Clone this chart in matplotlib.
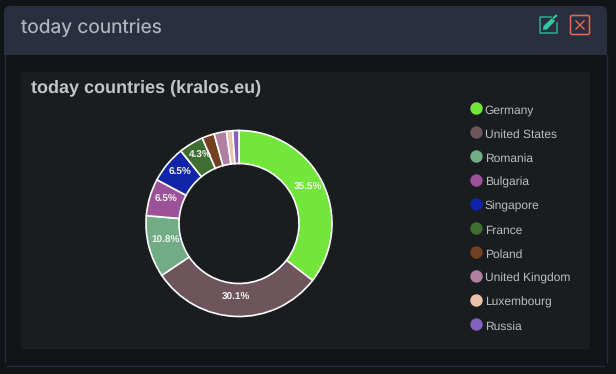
import matplotlib
matplotlib.use("Agg")
import matplotlib.pyplot as plt
from matplotlib.patches import FancyBboxPatch, Rectangle, Polygon

countries = ["Germany", "United States", "Romania", "Bulgaria", "Singapore",
             "France", "Poland", "United Kingdom", "Luxembourg", "Russia"]
visits = [33, 28, 10, 6, 6, 4, 2, 2, 1, 1]
colors = ["#72e63a", "#6e555b", "#72ac84", "#9b5299", "#0f24a6",
          "#3f6f30", "#74401f", "#b17f9f", "#ebc3aa", "#8360bb"]
small_labels = 4.0  # slices below this percent get no label

W, H = 616, 374
plt.rcParams["font.family"] = ["Liberation Sans", "DejaVu Sans"]
plt.rcParams["text.hinting"] = "no_hinting"
plt.rcParams["text.hinting_factor"] = 1

fig = plt.figure(figsize=(W / 100, H / 100), dpi=100, facecolor="#101416")

# page furniture, in pixel coordinates
bg = fig.add_axes([0, 0, 1, 1])
bg.set_xlim(0, W)
bg.set_ylim(H, 0)
bg.axis("off")

bg.add_patch(FancyBboxPatch((4, 6), 603, 60, boxstyle="round,pad=0,rounding_size=6",
                            fc="#2a2f3f", ec="none"))
bg.add_patch(Rectangle((4, 55), 603, 20, fc="#101416", ec="none"))
bg.plot([4.5, 4.5], [55, 362], color="#262c3a", lw=1)
bg.plot([606.5, 606.5], [55, 362], color="#262c3a", lw=1)
bg.plot([7, 604], [365.5, 365.5], color="#262c3a", lw=1)
bg.add_patch(Rectangle((21, 72), 569, 277, fc="#191d20", ec="none"))

bg.text(21, 28, "today countries", color="#b4b6bd", fontsize=13.8,
        family=["Inter", "DejaVu Sans"], va="center", ha="left")
bg.text(31, 88, "today countries (kralos.eu)", color="#c4c5c7", fontsize=13.0,
        fontweight="bold", va="center", ha="left")

# edit icon
teal = "#30a98c"
bg.plot([551, 540, 540, 556.5, 556.5], [16.5, 16.5, 33, 33, 23], color=teal, lw=1.1,
        solid_joinstyle="round")
bg.add_patch(Polygon([(543, 30), (543.5, 26), (552, 18), (555, 21), (547, 29.5)],
                     fc="#33c79f", ec="none"))
bg.plot([554, 556], [17.5, 15.8], color="#33c79f", lw=1.6)

# close icon
red = "#e8674f"
bg.add_patch(FancyBboxPatch((570.5, 15.5), 19, 19, boxstyle="round,pad=0,rounding_size=1.5",
                            fc="none", ec=red, lw=1.1))
bg.plot([576, 584], [21, 29], color=red, lw=1.0)
bg.plot([576, 584], [29, 21], color=red, lw=1.0)

# donut
cx, cy, r = 239, 223.5, 93
ax = fig.add_axes([(cx - r) / W, (H - cy - r) / H, 2 * r / W, 2 * r / H])
ax.set_facecolor("none")
wedges, _, pct_texts = ax.pie(
    visits, colors=colors, startangle=90, counterclock=False, radius=1,
    wedgeprops=dict(width=33 / 93, edgecolor="white", linewidth=1.2, clip_on=False),
    autopct=lambda p: f"{p:.1f}%" if p >= small_labels else "",
    pctdistance=0.82,
    textprops=dict(color="white", fontsize=7.2, fontweight="bold"),
)
ax.set_xlim(-1, 1)
ax.set_ylim(-1, 1)
for t in pct_texts:
    t.set_color("#f2f2f2")
    px, py = t.get_position()
    t.set_position((px, py + 2.5 / r))

# legend
for i, (name, col) in enumerate(zip(countries, colors)):
    y = 108.3 + i * 24
    bg.scatter([476], [y], s=80, color=col, linewidths=0)
    bg.text(484.8, y + 5.6, name, color="#bcbdbe", fontsize=8.6, va="baseline", ha="left")

fig.savefig("out.png", dpi=100, facecolor=fig.get_facecolor())
